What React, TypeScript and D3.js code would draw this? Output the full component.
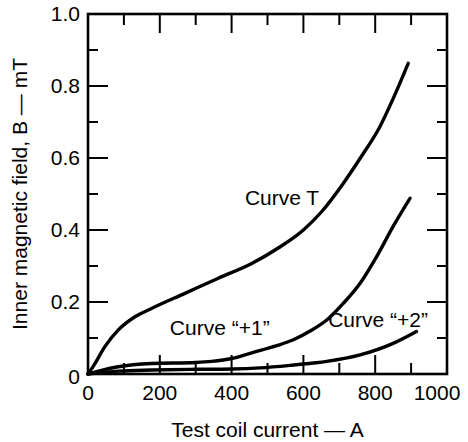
import * as d3 from 'd3'

// Curve T
const currentT = [0, 15, 47, 84, 131, 177, 270, 363, 456, 530, 600, 650, 710, 760, 813, 850, 892]
const fieldT = [0, 0.022, 0.076, 0.122, 0.159, 0.182, 0.224, 0.266, 0.307, 0.35, 0.4, 0.45, 0.528, 0.602, 0.687, 0.765, 0.863]

// Curve "+1"
const currentP1 = [0, 40, 84, 177, 300, 344, 400, 440, 485, 530, 572, 620, 665, 711, 758, 804, 850, 897]
const fieldP1 = [0, 0.011, 0.02, 0.029, 0.032, 0.035, 0.043, 0.054, 0.067, 0.08, 0.095, 0.12, 0.15, 0.196, 0.252, 0.326, 0.41, 0.488]

// Curve "+2"
const currentP2 = [0, 84, 177, 300, 400, 479, 572, 665, 758, 850, 915]
const fieldP2 = [0, 0.008, 0.011, 0.013, 0.014, 0.017, 0.025, 0.035, 0.053, 0.085, 0.118]

const xTickLabels = [0, 200, 400, 600, 800, 1000]
const yTickLabels = [0, 0.2, 0.4, 0.6, 0.8, 1.0]

const curveLabels = [
  { text: 'Curve T', x: 437, y: 0.469 },
  { text: 'Curve \u201C+1\u201D', x: 228, y: 0.108 },
  { text: 'Curve \u201C+2\u201D', x: 669, y: 0.131 },
]

const W = 468
const H = 442
const margin = { top: 14, right: 21, bottom: 68, left: 88 }
const font = '"Liberation Sans", Arial, Helvetica, sans-serif'

export default function App() {
  const x = d3.scaleLinear().domain([0, 1000]).range([margin.left, W - margin.right])
  const y = d3.scaleLinear().domain([0, 1]).range([H - margin.bottom, margin.top])

  const line = d3.line<[number, number]>()
    .x(d => x(d[0]))
    .y(d => y(d[1]))
    .curve(d3.curveMonotoneX)

  const series = [
    currentT.map((c, i) => [c, fieldT[i]] as [number, number]),
    currentP1.map((c, i) => [c, fieldP1[i]] as [number, number]),
    currentP2.map((c, i) => [c, fieldP2[i]] as [number, number]),
  ]

  const xTicks = d3.range(100, 1000, 100)
  const yTicks = d3.range(1, 10).map(i => i / 10)
  const x0 = x(0), x1 = x(1000), y0 = y(0), y1 = y(1)

  return (
    <svg width={W} height={H} style={{ position: 'absolute', left: 0, top: 0, background: '#fff' }}
      fontFamily={font}>
      {/* ticks, inward on all four sides */}
      <g stroke="#000" strokeWidth={2}>
        {xTicks.map(t => {
          const len = t % 200 === 0 ? 19 : 11
          return (
            <g key={'x' + t}>
              <line x1={x(t)} x2={x(t)} y1={y0} y2={y0 - len} />
              <line x1={x(t)} x2={x(t)} y1={y1} y2={y1 + len} />
            </g>
          )
        })}
        {yTicks.map(t => {
          const len = Math.round(t * 10) % 2 === 0 ? 20 : 10
          return (
            <g key={'y' + t}>
              <line x1={x0} x2={x0 + len} y1={y(t)} y2={y(t)} />
              <line x1={x1} x2={x1 - len} y1={y(t)} y2={y(t)} />
            </g>
          )
        })}
      </g>

      {/* curves */}
      {series.map((s, i) => (
        <path key={i} d={line(s) ?? ''} fill="none" stroke="#000" strokeWidth={3.4} strokeLinecap="round" />
      ))}

      {/* frame */}
      <rect x={x0} y={y1} width={x1 - x0} height={y0 - y1} fill="none" stroke="#000" strokeWidth={2.6} />

      {/* tick labels */}
      <g fontSize={21} fill="#000">
        {xTickLabels.map((t, i) => (
          <text key={t} x={x(t)} y={y0 + 26} textAnchor="middle" dx={i === xTickLabels.length - 1 ? -10 : 0}>
            {t}
          </text>
        ))}
        {yTickLabels.map(t => (
          <text key={t} x={x0 - 8} y={y(t) + (t === 0 ? 10 : 7)} textAnchor="end">
            {t === 0 ? '0' : t.toFixed(1)}
          </text>
        ))}
      </g>

      {/* curve labels */}
      <g fontSize={21} fill="#000">
        {curveLabels.map(l => (
          <text key={l.text} x={x(l.x)} y={y(l.y)}>{l.text}</text>
        ))}
      </g>

      {/* axis titles */}
      <text x={(x0 + x1) / 2} y={437} textAnchor="middle" fontSize={21}>Test coil current — A</text>
      <text transform={`translate(27,${(y0 + y1) / 2}) rotate(-90)`} textAnchor="middle" fontSize={21}>
        Inner magnetic field, B — mT
      </text>
    </svg>
  )
}
